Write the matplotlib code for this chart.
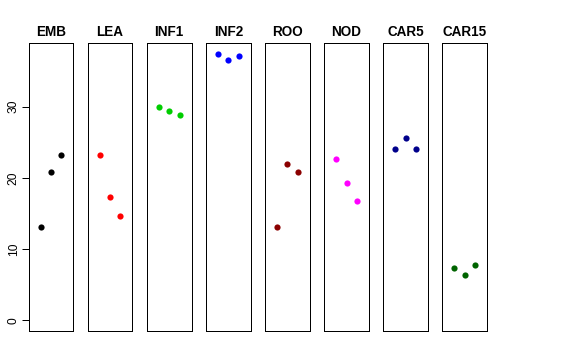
import matplotlib
matplotlib.use("Agg")
import matplotlib.pyplot as plt

categories = ["EMB", "LEA", "INF1", "INF2", "ROO", "NOD", "CAR5", "CAR15"]
values = {
    "EMB":   [13.1, 20.8, 23.2],
    "LEA":   [23.2, 17.3, 14.6],
    "INF1":  [29.9, 29.4, 28.8],
    "INF2":  [37.45, 36.5, 37.1],
    "ROO":   [13.1, 22.0, 20.9],
    "NOD":   [22.6, 19.3, 16.7],
    "CAR5":  [24.1, 25.6, 24.1],
    "CAR15": [7.4, 6.4, 7.8],
}
colors = ["black", "red", "#00CD00", "blue", "#8B0000", "magenta", "#00008B", "#006400"]
yticks = [0, 10, 20, 30]

W, H = 576, 360
fig = plt.figure(figsize=(W / 72, H / 72), dpi=72)
plt.rcParams['font.family'] = ['Liberation Sans', 'DejaVu Sans']

ymax = max(max(v) for v in values.values())
ylo, yhi = 0, ymax
pad = 0.04 * (yhi - ylo)
left0, pitch, width = 28.7, 59.1, 44.6
top, bottom = 43.0, 331.0

for i, cat in enumerate(categories):
    l = left0 + i * pitch
    ax = fig.add_axes([l / W, 1 - bottom / H, width / W, (bottom - top) / H])
    xs = [1, 2, 3]
    ax.plot(xs, values[cat], 'o', color=colors[i], markersize=6.2, markeredgewidth=0)
    ax.set_xlim(0 - 0.16, 4 + 0.16)
    ax.set_ylim(ylo - pad, yhi + pad)
    ax.set_xticks([])
    for s in ax.spines.values():
        s.set_linewidth(1.0)
        s.set_color("black")
    ax.set_title(cat, fontsize=13.5, fontweight='bold', pad=7)
    if i == 0:
        ax.set_yticks(yticks)
        ax.tick_params(axis='y', length=7, width=1, pad=2, labelsize=12)
        for t in ax.get_yticklabels():
            t.set_rotation(90)
            t.set_va('center')
    else:
        ax.set_yticks([])

fig.savefig("out.png", dpi=72)
